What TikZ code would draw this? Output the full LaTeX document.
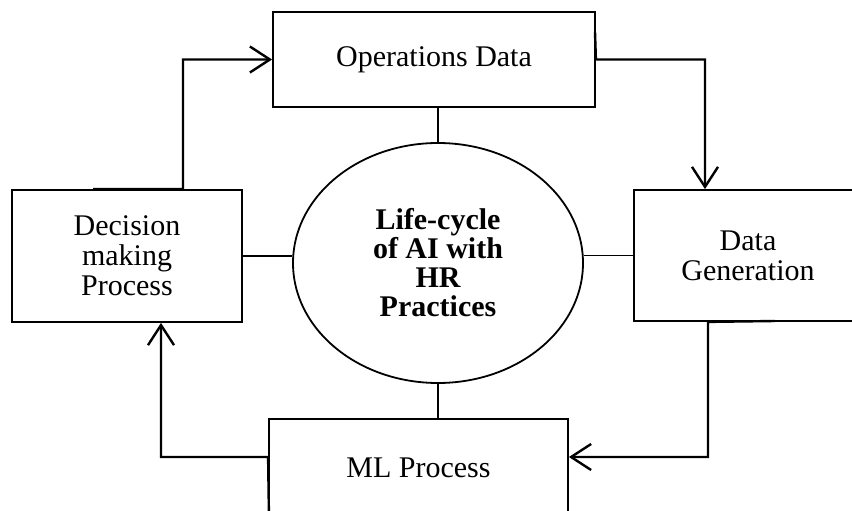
\documentclass[tikz,border=0pt]{standalone}
\usepackage{fontspec}
\setmainfont{Liberation Serif}
\usetikzlibrary{arrows.meta,shapes.geometric}
\begin{document}
\begin{tikzpicture}[x=1pt,y=-1pt,
    box/.style={draw, line width=1.8pt, align=center, font=\fontsize{30}{30}\selectfont},
    flow/.style={line width=2.4pt, -{Straight Barb[length=20pt,width=26pt,line width=2.4pt]}},
    link/.style={line width=1.1pt}]
    \useasboundingbox (0,0) rectangle (852,511);
    \clip (0,0) rectangle (852,511);
    % Centre ellipse
    \node[draw, ellipse, line width=1.8pt, minimum width=290pt, minimum height=240pt,
          align=center, font=\fontsize{30}{29}\selectfont\bfseries] (life) at (438,263)
          {Life-cycle\\of AI with\\HR\\Practices};
    % Boxes round it
    \node[box, minimum width=322pt, minimum height=95pt] (ops) at (434,59.5) {Operations Data};
    \node[box, minimum width=230pt, minimum height=132pt] (dec) at (127,256) {Decision\\making\\Process};
    \node[box, minimum width=228pt, minimum height=131pt] (gen) at (748,255.5) {Data\\Generation};
    \node[box, minimum width=299pt, minimum height=98pt] (ml) at (418.5,468) {ML Process};
    % Thin links to the centre
    \draw[link] (ops.south -| life.north) -- (life.north);
    \draw[link] (dec.east) -- (dec.east -| life.west);
    \draw[link] (gen.west) -- (gen.west -| life.east);
    \draw[link] (life.south) -- (life.south |- ml.north);
    % Loop of arrows
    \coordinate (d0) at (93,189);
    \coordinate (o0) at (595,32);
    \coordinate (g0) at (775,321);
    \coordinate (m0) at (269,520);
    \draw[flow] (d0) -- ([xshift=56pt]dec.north) |- (ops.west);
    \draw[flow] (o0) -- (ops.east) -| ([xshift=-43pt]gen.north);
    \draw[flow] (g0) -- ([xshift=-40pt]gen.south) |- ([yshift=11pt]ml.east);
    \draw[flow] (m0) -- ([yshift=11pt]ml.west) -| ([xshift=34pt]dec.south);
\end{tikzpicture}
\end{document}
